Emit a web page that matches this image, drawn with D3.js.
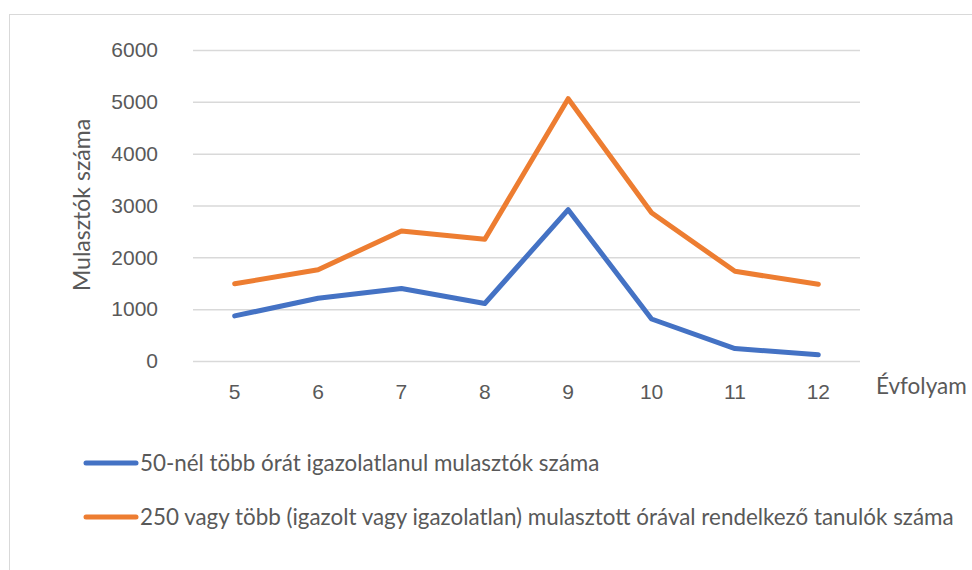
<!DOCTYPE html>
<html><head><meta charset="utf-8">
<script src="https://cdn.jsdelivr.net/npm/d3@7"></script>
<style>
body{margin:0;background:#fff;}
svg{display:block;font-family:Lato, "Open Sans", sans-serif;}
</style></head>
<body><svg id="c" width="972" height="570"></svg>
<script>
const categories = ["5","6","7","8","9","10","11","12"];
const seriesNames = [
  "50-nél több órát igazolatlanul mulasztók száma",
  "250 vagy több (igazolt vagy igazolatlan) mulasztott órával rendelkező tanulók száma"
];
const blueValues = [870, 1210, 1400, 1110, 2920, 810, 240, 120];
const orangeValues = [1490, 1760, 2510, 2350, 5060, 2860, 1730, 1480];
const yTicks = [0, 1000, 2000, 3000, 4000, 5000, 6000];
const colors = ["#4472C4", "#ED7D31"];
const yTitle = "Mulasztók száma";
const xTitle = "Évfolyam";

const svg = d3.select("#c");
const textColor = "#595959";

// chart area border
svg.append("rect").attr("x", 9.5).attr("y", 14.5).attr("width", 1000).attr("height", 600)
  .attr("fill", "none").attr("stroke", "#d9d9d9").attr("stroke-width", 1);

const x = d3.scaleBand().domain(categories).range([193, 860]).padding(0);
const y = d3.scaleLinear().domain([0, 6000]).range([361, 50]);

const gy = svg.append("g").attr("transform", "translate(193,0)")
  .call(d3.axisLeft(y).tickValues(yTicks).tickFormat(d3.format("d"))
    .tickSizeInner(-(860 - 193)).tickSizeOuter(0).tickPadding(35));
gy.select(".domain").remove();
gy.selectAll(".tick line").attr("stroke", "#d9d9d9").attr("stroke-width", 1.5);
gy.selectAll(".tick text").attr("fill", textColor).style("font-size", "21px");

const gx = svg.append("g").attr("transform", "translate(0,361)")
  .call(d3.axisBottom(x).tickSize(0).tickPadding(23));
gx.select(".domain").remove();
gx.selectAll(".tick text").attr("fill", textColor).style("font-size", "21px");

const line = d3.line().x((d, i) => x(categories[i]) + x.bandwidth() / 2).y(d => y(d));
[blueValues, orangeValues].forEach((vals, k) => {
  svg.append("path").datum(vals).attr("d", line).attr("fill", "none")
    .attr("stroke", colors[k]).attr("stroke-width", 5)
    .attr("stroke-linejoin", "round").attr("stroke-linecap", "round");
});

svg.append("text").attr("transform", "translate(90,205) rotate(-90)")
  .attr("text-anchor", "middle").attr("fill", textColor).style("font-size", "23px").text(yTitle);
svg.append("text").attr("x", 876).attr("y", 394)
  .attr("fill", textColor).style("font-size", "22.5px").text(xTitle);

const legendY = [463, 517];
seriesNames.forEach((name, k) => {
  svg.append("line").attr("x1", 86).attr("x2", 136).attr("y1", legendY[k]).attr("y2", legendY[k])
    .attr("stroke", colors[k]).attr("stroke-width", 5).attr("stroke-linecap", "round");
  svg.append("text").attr("x", 140).attr("y", legendY[k]).attr("dy", "0.35em")
    .attr("fill", textColor).style("font-size", "22.4px").text(name);
});
</script></body></html>
